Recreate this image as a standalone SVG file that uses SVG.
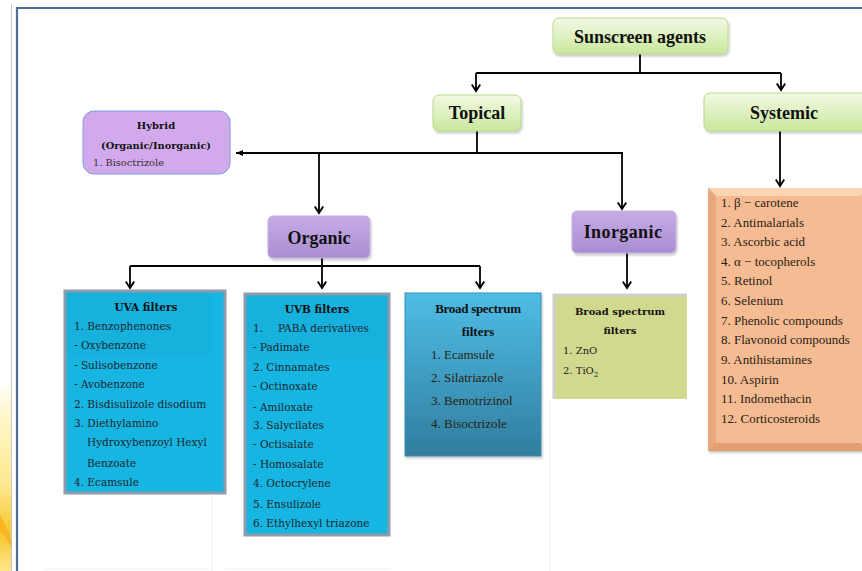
<svg xmlns="http://www.w3.org/2000/svg" width="862" height="571" viewBox="0 0 862 571">
  <defs>
    <linearGradient id="gGreen" x1="0" y1="0" x2="0" y2="1">
      <stop offset="0" stop-color="#f3fae4"/>
      <stop offset="1" stop-color="#c9e79c"/>
    </linearGradient>
    <linearGradient id="gPurple" x1="0" y1="0" x2="0" y2="1">
      <stop offset="0" stop-color="#c6ace6"/>
      <stop offset="1" stop-color="#a98dd2"/>
    </linearGradient>
    <linearGradient id="gBroad" x1="0" y1="0" x2="0" y2="1">
      <stop offset="0" stop-color="#4fbde6"/>
      <stop offset="1" stop-color="#307d9e"/>
    </linearGradient>
    <linearGradient id="gSwoosh" x1="0" y1="0" x2="0" y2="1">
      <stop offset="0" stop-color="#ffffff"/>
      <stop offset="0.2" stop-color="#fff6c8"/>
      <stop offset="0.55" stop-color="#fde98f"/>
      <stop offset="0.8" stop-color="#f8c52e"/>
      <stop offset="1" stop-color="#fde68a"/>
    </linearGradient>
    <filter id="shadow" x="-10%" y="-10%" width="125%" height="130%">
      <feDropShadow dx="1" dy="2" stdDeviation="1.2" flood-color="#000" flood-opacity="0.22"/>
    </filter>
    <!-- open chevron head, drawn along +x so orient="auto" turns it with the line -->
    <marker id="arrow" viewBox="0 0 12 12" refX="9" refY="6" markerWidth="12" markerHeight="12" markerUnits="userSpaceOnUse" orient="auto">
      <path d="M2.5,1.8 L9,6 L2.5,10.2" fill="none" stroke="#000" stroke-width="1.9" stroke-linejoin="miter"/>
    </marker>
    <!-- small solid head -->
    <marker id="arrowSolid" viewBox="0 0 12 12" refX="10" refY="6" markerWidth="12" markerHeight="12" markerUnits="userSpaceOnUse" orient="auto">
      <path d="M3,3 L10,6 L3,9 Z" fill="#000"/>
    </marker>
    <style>
      .title { font-family: "Liberation Serif", serif; font-weight: bold; font-size: 18px; fill: #111; text-anchor: middle; }
      .list { font-family: "DejaVu Serif", serif; font-size: 10.5px; fill: #1c2630; }
      .listB { font-family: "DejaVu Serif", serif; font-size: 10.5px; font-weight: bold; fill: #111; text-anchor: middle; }
      .cam { font-family: "Liberation Serif", serif; font-size: 13px; fill: #2a1d14; }
      .camB { font-family: "Liberation Serif", serif; font-size: 13px; font-weight: bold; fill: #111; text-anchor: middle; }
      .conn { fill: none; stroke: #000; stroke-width: 1.8; }
      .ghost { stroke: #eeeeee; stroke-width: 1; fill: none; }
    </style>
  </defs>

  <rect width="862" height="571" fill="#ffffff"/>

  <!-- page edge and slide frame -->
  <g id="backdrop">
    <rect x="0" y="380" width="11" height="191" fill="url(#gSwoosh)"/>
    <path d="M0,515 C4,522 8,530 11,540 L11,548 C8,540 4,534 0,530 Z" fill="#f4b018" opacity="0.8"/>
    <line x1="11.5" y1="4" x2="11.5" y2="571" stroke="#c8c8c8" stroke-width="1"/>
    <path d="M17,571 L17,8 L862,8" fill="none" stroke="#4e7197" stroke-width="2.2"/>
    <line x1="212" y1="495" x2="212" y2="571" class="ghost"/>
    <line x1="550" y1="400" x2="550" y2="571" class="ghost"/>
    <line x1="45" y1="569" x2="210" y2="569" class="ghost"/>
    <line x1="225" y1="569" x2="390" y2="569" class="ghost"/>
  </g>

  <!-- connectors -->
  <g id="connectors">
    <polyline class="conn" points="640,54 640,73"/>
    <polyline class="conn" points="476,73 781,73"/>
    <line class="conn" x1="476" y1="73" x2="476" y2="91" marker-end="url(#arrow)"/>
    <line class="conn" x1="781" y1="73" x2="781" y2="90" marker-end="url(#arrow)"/>

    <polyline class="conn" points="477,131 477,153"/>
    <line class="conn" x1="623" y1="153" x2="236" y2="153" marker-end="url(#arrowSolid)"/>
    <line class="conn" x1="319" y1="153" x2="319" y2="213" marker-end="url(#arrow)"/>
    <line class="conn" x1="622" y1="153" x2="622" y2="209" marker-end="url(#arrow)"/>

    <polyline class="conn" points="322,258 322,266"/>
    <polyline class="conn" points="130,266 480,266"/>
    <line class="conn" x1="130" y1="266" x2="130" y2="288" marker-end="url(#arrow)"/>
    <line class="conn" x1="322" y1="266" x2="322" y2="288" marker-end="url(#arrow)"/>
    <line class="conn" x1="480" y1="266" x2="480" y2="288" marker-end="url(#arrow)"/>

    <line class="conn" x1="627" y1="253" x2="627" y2="288" marker-end="url(#arrow)"/>
    <line class="conn" x1="780" y1="131" x2="780" y2="186" marker-end="url(#arrow)"/>
  </g>

  <!-- top level -->
  <g id="sunscreen-agents">
    <rect x="553" y="18" width="175" height="36" rx="6" fill="url(#gGreen)" stroke="#b9d98e" stroke-width="1" filter="url(#shadow)"/>
    <text class="title" x="640" y="43" font-size="19">Sunscreen agents</text>
  </g>

  <g id="topical">
    <rect x="433" y="95" width="88" height="36" rx="6" fill="url(#gGreen)" stroke="#b9d98e" stroke-width="1" filter="url(#shadow)"/>
    <text class="title" x="477" y="119">Topical</text>
  </g>

  <g id="systemic">
    <rect x="704" y="93" width="164" height="38" rx="6" fill="url(#gGreen)" stroke="#b9d98e" stroke-width="1" filter="url(#shadow)"/>
    <text class="title" x="784" y="119">Systemic</text>
  </g>

  <g id="hybrid">
    <rect x="83" y="111" width="147" height="63" rx="11" fill="#d3a9ee" stroke="#7d9cd8" stroke-width="1"/>
    <text x="156" y="129" font-family="DejaVu Serif, serif" font-size="10" font-weight="bold" fill="#111" text-anchor="middle">Hybrid</text>
    <text x="156" y="149" font-family="DejaVu Serif, serif" font-size="9.8" font-weight="bold" fill="#111" text-anchor="middle">(Organic/Inorganic)</text>
    <text x="93" y="166" font-family="DejaVu Serif, serif" font-size="9.8" fill="#333">1. Bisoctrizole</text>
  </g>

  <g id="organic">
    <rect x="268" y="216" width="102" height="42" rx="5" fill="url(#gPurple)" stroke="#c3b0e0" stroke-width="1" filter="url(#shadow)"/>
    <text class="title" x="319" y="244">Organic</text>
  </g>

  <g id="inorganic">
    <rect x="572" y="211" width="104" height="42" rx="5" fill="url(#gPurple)" stroke="#c3b0e0" stroke-width="1" filter="url(#shadow)"/>
    <text class="title" x="623" y="238" letter-spacing="0.4">Inorganic</text>
  </g>

  <!-- organic leaves -->
  <g id="uva-filters">
    <rect x="65" y="291" width="160" height="202" fill="#17b5e1" stroke="#8d9baa" stroke-width="3"/>
    <rect x="66" y="292" width="146" height="65" rx="8" fill="#0b7fb0" opacity="0.06"/>
    <text class="listB" x="146" y="311">UVA filters</text>
    <text class="list" x="74" y="330">1. Benzophenones</text>
    <text class="list" x="74" y="349">- Oxybenzone</text>
    <text class="list" x="74" y="369">- Sulisobenzone</text>
    <text class="list" x="74" y="388">- Avobenzone</text>
    <text class="list" x="74" y="408">2. Bisdisulizole disodium</text>
    <text class="list" x="74" y="427">3. Diethylamino</text>
    <text class="list" x="87" y="446">Hydroxybenzoyl Hexyl</text>
    <text class="list" x="87" y="467">Benzoate</text>
    <text class="list" x="74" y="486">4. Ecamsule</text>
  </g>

  <g id="uvb-filters">
    <rect x="245" y="294" width="144" height="241" fill="#17b5e1" stroke="#8d9baa" stroke-width="3"/>
    <rect x="246" y="295" width="142" height="64" rx="8" fill="#0b7fb0" opacity="0.06"/>
    <text class="listB" x="317" y="313">UVB filters</text>
    <text class="list" x="253" y="332">1.</text>
    <text class="list" x="278" y="332">PABA derivatives</text>
    <text class="list" x="253" y="351">- Padimate</text>
    <text class="list" x="253" y="371">2. Cinnamates</text>
    <text class="list" x="253" y="390">- Octinoxate</text>
    <text class="list" x="253" y="411">- Amiloxate</text>
    <text class="list" x="253" y="429">3. Salycilates</text>
    <text class="list" x="253" y="448">- Octisalate</text>
    <text class="list" x="253" y="468">- Homosalate</text>
    <text class="list" x="253" y="487">4. Octocrylene</text>
    <text class="list" x="253" y="508">5. Ensulizole</text>
    <text class="list" x="253" y="527">6. Ethylhexyl triazone</text>
  </g>

  <g id="broad-spectrum-organic">
    <rect x="405" y="293" width="136" height="163" fill="url(#gBroad)" stroke="#3a8fb3" stroke-width="1" filter="url(#shadow)"/>
    <text class="camB" x="478" y="313" letter-spacing="-0.3">Broad spectrum</text>
    <text class="camB" x="478" y="336">filters</text>
    <text class="cam" x="431" y="359" fill="#0f2630">1. Ecamsule</text>
    <text class="cam" x="431" y="382" fill="#0f2630">2. Silatriazole</text>
    <text class="cam" x="431" y="405" fill="#0f2630">3. Bemotrizinol</text>
    <text class="cam" x="431" y="428" fill="#0f2630">4. Bisoctrizole</text>
  </g>

  <!-- inorganic leaf -->
  <g id="broad-spectrum-inorganic">
    <rect x="554" y="295" width="133" height="104" fill="#d1d98f"/>
    <path d="M554,399 L554,295 L687,295" fill="none" stroke="#cfcfcf" stroke-width="3"/>
    <text x="620" y="315" font-family="DejaVu Serif, serif" font-size="10" font-weight="bold" fill="#111" text-anchor="middle">Broad spectrum</text>
    <text x="620" y="334" font-family="DejaVu Serif, serif" font-size="10" font-weight="bold" fill="#111" text-anchor="middle">filters</text>
    <text x="563" y="354" font-family="DejaVu Serif, serif" font-size="10" fill="#222">1. ZnO</text>
    <text x="563" y="374" font-family="DejaVu Serif, serif" font-size="10" fill="#222">2. TiO<tspan font-size="7" dy="3">2</tspan></text>
  </g>

  <!-- systemic agents -->
  <g id="systemic-agents">
    <rect x="708" y="188" width="160" height="263" fill="#f5bb92" filter="url(#shadow)"/>
    <polygon points="708,188 868,188 860,196 716,196" fill="#fbd4b4"/>
    <polygon points="708,188 716,196 716,443 708,451" fill="#e9a87c"/>
    <polygon points="708,451 716,443 860,443 868,451" fill="#e2a072"/>
    <g class="cam">
      <text x="721" y="207">1. β − carotene</text>
      <text x="721" y="227">2. Antimalarials</text>
      <text x="721" y="246">3. Ascorbic acid</text>
      <text x="721" y="266">4. α − tocopherols</text>
      <text x="721" y="285">5. Retinol</text>
      <text x="721" y="305">6. Selenium</text>
      <text x="721" y="325">7. Phenolic compounds</text>
      <text x="721" y="344">8. Flavonoid compounds</text>
      <text x="721" y="364">9. Antihistamines</text>
      <text x="721" y="384">10. Aspirin</text>
      <text x="721" y="403">11. Indomethacin</text>
      <text x="721" y="423">12. Corticosteroids</text>
    </g>
  </g>
</svg>
